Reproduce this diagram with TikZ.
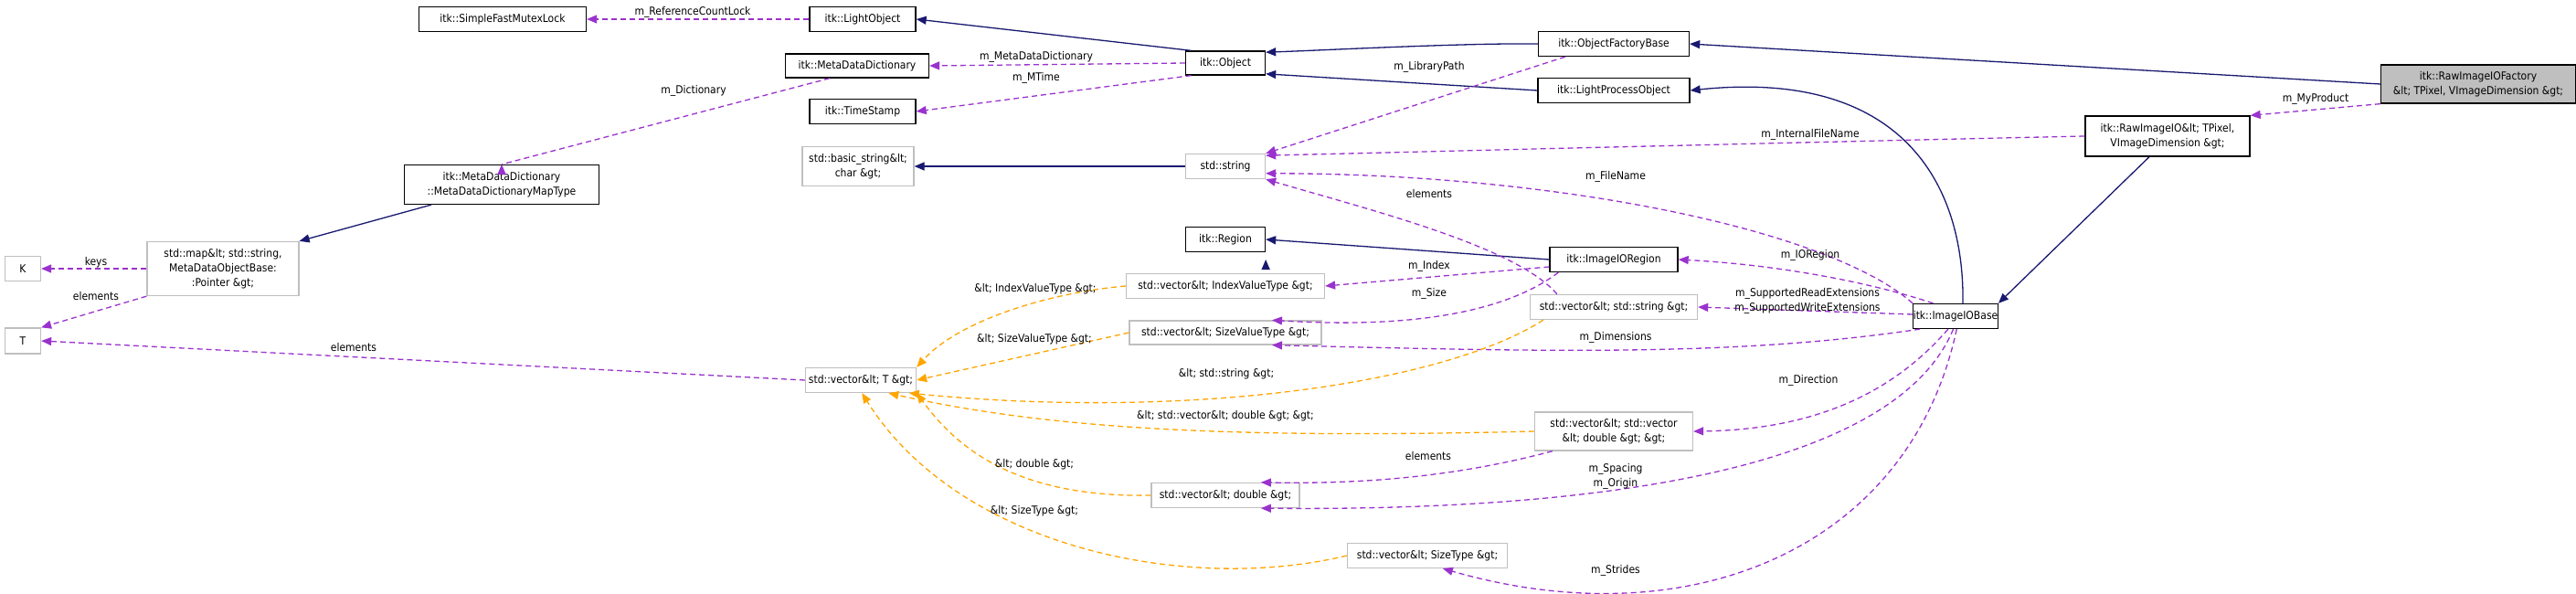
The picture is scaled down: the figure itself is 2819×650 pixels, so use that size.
\documentclass[tikz,border=0pt]{standalone}
\usepackage{fontspec}
\setmainfont{DejaVu Sans Condensed}
\usetikzlibrary{arrows.meta}
\definecolor{nv}{RGB}{25,25,112}
\definecolor{pu}{RGB}{154,50,205}
\definecolor{og}{RGB}{255,165,0}
\definecolor{gb}{RGB}{191,191,191}
\tikzset{
 bx/.style={draw=black,line width=1.3pt,inner sep=0pt,align=center,font=\fontsize{12}{16}\selectfont},
 gx/.style={bx,draw=gb},
 lb/.style={inner sep=0pt,align=center,font=\fontsize{12}{16}\selectfont},
 nav/.style={draw=nv,line width=1.3pt,-{Triangle[width=9pt,length=11pt]},fill=none},
 pur/.style={draw=pu,line width=1.3pt,dash pattern=on 6pt off 4pt,-{Triangle[width=9pt,length=11pt,fill=pu]}},
 org/.style={draw=og,line width=1.3pt,dash pattern=on 6pt off 4pt,-{Triangle[width=9pt,length=11pt,fill=og]}},
}
\newcommand{\bn}[7]{\node[#1,minimum width=#5pt,minimum height=#6pt] (#2) at (#3,-#4) {#7};}
\begin{document}
\begin{tikzpicture}[x=1pt,y=1pt]
\useasboundingbox (0,0) rectangle (2819,-650);
% nodes
\bn{bx}{sfml}{550}{21}{183}{27}{itk::SimpleFastMutexLock}
\bn{bx}{lo}{944}{21}{116}{27}{itk::LightObject}
\bn{bx}{mdd}{938}{72}{157}{26}{itk::MetaDataDictionary}
\bn{bx}{ts}{944}{122}{116}{27}{itk::TimeStamp}
\bn{gx}{bs}{939}{182}{122}{43}{std::basic\_string\&lt;\\char \&gt;}
\bn{bx}{mt}{549}{202}{213}{43}{itk::MetaDataDictionary\\::MetaDataDictionaryMapType}
\bn{gx}{map}{244}{294}{166}{59}{std::map\&lt; std::string,\\MetaDataObjectBase:\\:Pointer \&gt;}
\bn{gx}{K}{25}{294}{39}{27}{K}
\bn{gx}{T}{25}{373}{39}{28}{T}
\bn{gx}{vt}{942}{416}{121}{27}{std::vector\&lt; T \&gt;}
\bn{bx}{obj}{1341}{69}{87}{26}{itk::Object}
\bn{bx}{ofb}{1766}{48}{165}{27}{itk::ObjectFactoryBase}
\bn{bx}{lpo}{1766}{99}{166}{27}{itk::LightProcessObject}
\bn{gx}{str}{1341}{182}{87}{27}{std::string}
\bn{bx}{reg}{1341}{262}{87}{27}{itk::Region}
\bn{bx}{ior}{1766}{284}{140}{27}{itk::ImageIORegion}
\bn{gx}{viv}{1341}{313}{217}{27}{std::vector\&lt; IndexValueType \&gt;}
\node[bx,fill=gb,minimum width=213pt,minimum height=42pt] (rif) at (2712,-92) {itk::RawImageIOFactory\\\&lt; TPixel, VImageDimension \&gt;};
\bn{bx}{rio}{2372}{149}{180}{44}{itk::RawImageIO\&lt; TPixel,\\VImageDimension \&gt;}
\bn{gx}{vss}{1766}{336}{183}{27}{std::vector\&lt; std::string \&gt;}
\bn{bx}{iob}{2140}{346}{84}{27}{itk::ImageIOBase}
\bn{gx}{vsv}{1341}{364}{210}{26}{std::vector\&lt; SizeValueType \&gt;}
\bn{gx}{vvd}{1766}{472}{173}{42}{std::vector\&lt; std::vector\\\&lt; double \&gt; \&gt;}
\bn{gx}{vd}{1341}{542}{162}{27}{std::vector\&lt; double \&gt;}
\bn{gx}{vst}{1562}{608}{175}{27}{std::vector\&lt; SizeType \&gt;}
% navy edges
\draw[nav] (obj.160) -- (lo.east);
\draw[nav] (mt.south west) ++(30,0) -- (map.north east);
\draw[nav] (str.west) -- (bs.east);
\draw[nav] (ofb.west) .. controls (1600,-47) and (1450,-55) .. (obj.15);
\draw[nav] (lpo.west) -- (obj.-15);
\draw[nav] (rif.west) -- (ofb.east);
\draw[nav] (reg.east |- ior.west) ++(0,0) ;
\draw[nav] (ior.west) -- (reg.east);
\draw[nav] (rio.south) ++(-20,0) -- (iob.north east);
\draw[nav] (iob.north) ++(8,0) .. controls (2150,-200) and (2080,-75) .. (lpo.east);
% purple edges
\draw[pur] (lo.west) -- (sfml.east);
\draw[pur] (obj.west) -- (mdd.east);
\draw[pur] (obj.200) -- (ts.east);
\draw[pur] (mdd.south) ++(-30,0) -- (mt.north) ++(0,0);
\draw[pur] (map.west) -- (K.east);
\draw[pur] (map.south west) -- (T.north east);
\draw[pur] (vt.west) -- (T.east);
\draw[pur] (ofb.south west) ++(30,0) -- (str.north east);
\draw[pur] (rif.south west) -- (rio.north east);
\draw[pur] (rio.west) .. controls (2000,-155) and (1600,-165) .. (str.15);
\draw[pur] (iob.north west) .. controls (2000,-250) and (1700,-190) .. (str.-10);
\draw[pur] (iob.150) .. controls (2050,-310) and (1950,-290) .. (ior.east);
\draw[pur] (iob.west) ++(0,2) -- (vss.east);
\draw[pur] (iob.200) .. controls (1900,-390) and (1700,-385) .. (vsv.-15);
\draw[pur] (iob.240) .. controls (2080,-420) and (2000,-470) .. (vvd.east);
\draw[pur] (iob.260) .. controls (2080,-500) and (1800,-560) .. (vd.-20);
\draw[pur] (iob.275) .. controls (2090,-600) and (1850,-700) .. (vst.-40);
\draw[pur] (vss.north west) ++(30,0) .. controls (1660,-270) and (1500,-230) .. (str.south east);
\draw[pur] (ior.west) ++(0,-8) -- (viv.east);
\draw[pur] (ior.south west) ++(10,0) .. controls (1650,-340) and (1550,-360) .. (vsv.15);
\draw[pur] (vvd.south west) ++(20,0) .. controls (1600,-520) and (1500,-530) .. (vd.20);
% orange edges
\draw[org] (viv.west) .. controls (1150,-320) and (1050,-350) .. (vt.north east);
\draw[org] (vsv.west) -- (vt.east);
\draw[org] (vss.south west) ++(15,0) .. controls (1580,-420) and (1300,-460) .. (vt.-15);
\draw[org] (vvd.west) .. controls (1350,-480) and (1150,-470) .. (vt.-25);
\draw[org] (vd.west) .. controls (1100,-545) and (1040,-480) .. (vt.south east);
\draw[org] (vst.west) .. controls (1300,-650) and (1050,-600) .. (vt.-85);
% labels
\node[lb] (l1) at (758,-13) {m\_ReferenceCountLock};
\node[lb] (l2) at (1134,-62) {m\_MetaDataDictionary};
\node[lb] (l3) at (1134,-85) {m\_MTime};
\node[lb] (l4) at (759,-99) {m\_Dictionary};
\node[lb] (l5) at (1564,-73) {m\_LibraryPath};
\node[lb] (l6) at (1981,-147) {m\_InternalFileName};
\node[lb] (l7) at (2534,-108) {m\_MyProduct};
\node[lb] (l8) at (1768,-193) {m\_FileName};
\node[lb] (l9) at (1564,-212) {elements};
\node[lb] (l10) at (1981,-279) {m\_IORegion};
\node[lb] (l11) at (1564,-291) {m\_Index};
\node[lb] (l12) at (1564,-321) {m\_Size};
\node[lb] (l13) at (1978,-329) {m\_SupportedReadExtensions\\m\_SupportedWriteExtensions};
\node[lb] (l14) at (1768,-369) {m\_Dimensions};
\node[lb] (l15) at (1133,-316) {\&lt; IndexValueType \&gt;};
\node[lb] (l16) at (1132,-371) {\&lt; SizeValueType \&gt;};
\node[lb] (l17) at (1342,-409) {\&lt; std::string \&gt;};
\node[lb] (l18) at (1979,-416) {m\_Direction};
\node[lb] (l19) at (1341,-455) {\&lt; std::vector\&lt; double \&gt; \&gt;};
\node[lb] (l20) at (1563,-499) {elements};
\node[lb] (l21) at (1132,-508) {\&lt; double \&gt;};
\node[lb] (l22) at (1768,-521) {m\_Spacing\\m\_Origin};
\node[lb] (l23) at (1132,-559) {\&lt; SizeType \&gt;};
\node[lb] (l24) at (1768,-624) {m\_Strides};
\node[lb] (l25) at (105,-287) {keys};
\node[lb] (l26) at (105,-324) {elements};
\node[lb] (l27) at (387,-380) {elements};
\end{tikzpicture}
\end{document}
